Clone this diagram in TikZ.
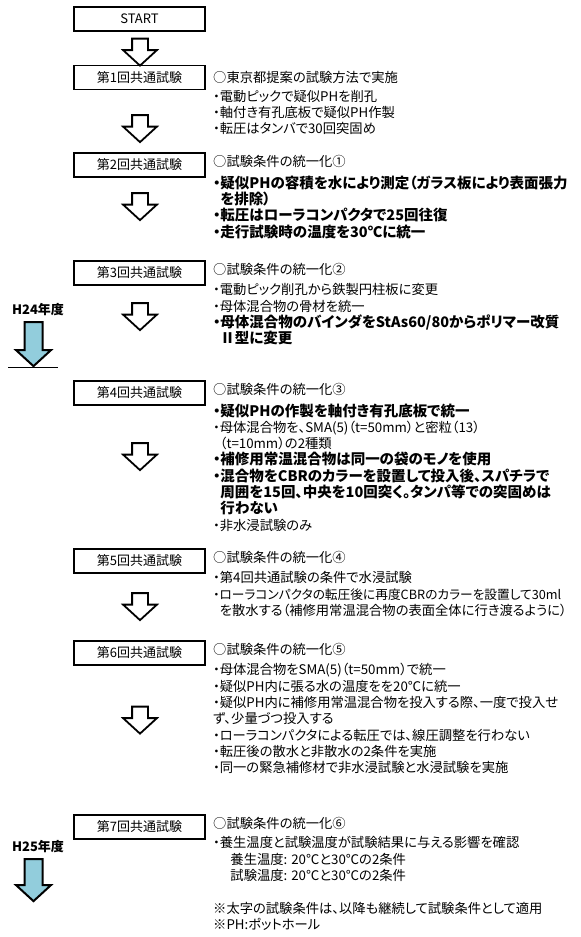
\documentclass[tikz,border=0pt]{standalone}
\usepackage{fontspec}
\setmainfont{Noto Sans CJK JP}[RawFeature=+palt]
\usetikzlibrary{positioning,shapes.arrows}
\definecolor{yearblue}{RGB}{146,205,220}
\newcommand\boldline[1]{{\bfseries\fontsize{14.5bp}{16.3bp}\selectfont#1}}

\begin{document}
\begin{tikzpicture}[x=1bp,y=-1bp,node distance=8bp,
	every node/.style={font=\fontsize{13.3bp}{16.3bp}\selectfont},
	stepbox/.style={draw,line width=1.8bp,minimum width=131bp,minimum height=24bp,inner sep=0pt,outer sep=0pt,font=\fontsize{13bp}{16bp}\selectfont},
	headline/.style={anchor=west,inner sep=0pt,yshift=4bp},
	notes/.style={anchor=north west,align=left,inner sep=0pt},
	flow/.style={single arrow,draw,line width=1.8bp,rotate=-90,minimum height=27bp,inner xsep=0pt,inner ysep=7bp,single arrow head extend=9bp,single arrow tip angle=95},
	year/.style={single arrow,draw,fill=yearblue,line width=2bp,rotate=-90,inner xsep=0pt,inner ysep=8bp,single arrow head extend=8.5bp,single arrow tip angle=95},
	yearlabel/.style={font=\bfseries\fontsize{13bp}{16bp}\selectfont,inner sep=0pt}]
	\useasboundingbox (0,0) rectangle (581,937);
	% steps
	\node[stepbox] (start) at (139.5,19) {START};
	\node[stepbox,below=34.5bp of start] (s1) {第1回共通試験};
	\node[stepbox,below=63.5bp of s1] (s2) {第2回共通試験};
	\node[stepbox,below=84bp of s2] (s3) {第3回共通試験};
	\node[stepbox,below=96bp of s3] (s4) {第4回共通試験};
	\node[stepbox,below=144bp of s4] (s5) {第5回共通試験};
	\node[stepbox,below=68bp of s5] (s6) {第6回共通試験};
	\node[stepbox,below=150bp of s6] (s7) {第7回共通試験};
	% flow arrows
	\node[flow] (f1) at (140,48.5) {};
	\node[flow] (f2) at (140,125) {};
	\node[flow] (f3) at (140,203) {};
	\node[flow] (f4) at (140,313) {};
	\node[flow] (f5) at (140,453) {};
	\node[flow] (f6) at (140,603) {};
	\node[flow] (f7) at (140,716.5) {};
	% conditions
	\node[headline,right=8bp of s1,yshift=-4bp] (h1) {○東京都提案の試験方法で実施};
	\node[notes] (n1) at ([yshift=-6bp]h1.south west) {・電動ピックで疑似PHを削孔\\
		・軸付き有孔底板で疑似PH作製\\
		・転圧はタンバで30回突固め};
	\node[headline,right=8bp of s2] (h2) {○試験条件の統一化①};
	\node[notes] (n2) at ([yshift=-8bp]h2.south west) {\boldline{・疑似PHの容積を水により測定（ガラス板により表面張力}\\
		\boldline{\phantom{・}を排除）}\\
		\boldline{・転圧はローラコンパクタで25回往復}\\
		\boldline{・走行試験時の温度を30℃に統一}};
	\node[headline,right=8bp of s3] (h3) {○試験条件の統一化②};
	\node[notes] (n3) at ([yshift=-8bp]h3.south west) {・電動ピック削孔から鉄製円柱板に変更\\
		・母体混合物の骨材を統一\\
		\boldline{・母体混合物のバインダをStAs60/80からポリマー改質}\\
		\boldline{\phantom{・}Ⅱ型に変更}};
	\node[headline,right=8bp of s4] (h4) {○試験条件の統一化③};
	\node[notes] (n4) at ([yshift=-8bp]h4.south west) {\boldline{・疑似PHの作製を軸付き有孔底板で統一}\\
		・母体混合物を、SMA(5)（t=50mm）と密粒（13）\\
		\phantom{・}（t=10mm）の2種類\\
		\boldline{・補修用常温混合物は同一の袋のモノを使用}\\
		\boldline{・混合物をCBRのカラーを設置して投入後、スパチラで}\\
		\boldline{\phantom{・}周囲を15回、中央を10回突く。タンパ等での突固めは}\\
		\boldline{\phantom{・}行わない}\\
		・非水浸試験のみ};
	\node[headline,right=8bp of s5] (h5) {○試験条件の統一化④};
	\node[notes] (n5) at ([yshift=-8bp]h5.south west) {・第4回共通試験の条件で水浸試験\\
		{\fontsize{12.7bp}{16.3bp}\selectfont ・ローラコンパクタの転圧後に再度CBRのカラーを設置して30ml}\\
		\phantom{・}を散水する（補修用常温混合物の表面全体に行き渡るように）};
	\node[headline,right=8bp of s6] (h6) {○試験条件の統一化⑤};
	\node[notes] (n6) at ([yshift=-8bp]h6.south west) {・母体混合物をSMA(5)（t=50mm）で統一\\
		・疑似PH内に張る水の温度をを20℃に統一\\
		・疑似PH内に補修用常温混合物を投入する際、一度で投入せ\\
		ず、少量づつ投入する\\
		・ローラコンパクタによる転圧では、線圧調整を行わない\\
		・転圧後の散水と非散水の2条件を実施\\
		・同一の緊急補修材で非水浸試験と水浸試験を実施};
	\node[headline,right=8bp of s7] (h7) {○試験条件の統一化⑥};
	\node[notes] (n7) at ([yshift=-7bp]h7.south west) {・養生温度と試験温度が試験結果に与える影響を確認\\
		\hspace*{1.3em}養生温度: 20℃と30℃の2条件\\
		\hspace*{1.3em}試験温度: 20℃と30℃の2条件\\[16.3bp]
		※太字の試験条件は、以降も継続して試験条件として適用\\
		※PH:ポットホール};
	% fiscal years
	\node[yearlabel] (y24) at (38,310) {H24年度};
	\node[year,minimum height=44bp] (a24) at (33.5,340) {};
	\draw[line width=1.2bp] ([xshift=-25bp]a24.tip) -- ([xshift=24bp]a24.tip);
	\node[yearlabel] (y25) at (38,847) {H25年度};
	\node[year,minimum height=42bp] (a25) at (33.5,876) {};
\end{tikzpicture}
\end{document}
